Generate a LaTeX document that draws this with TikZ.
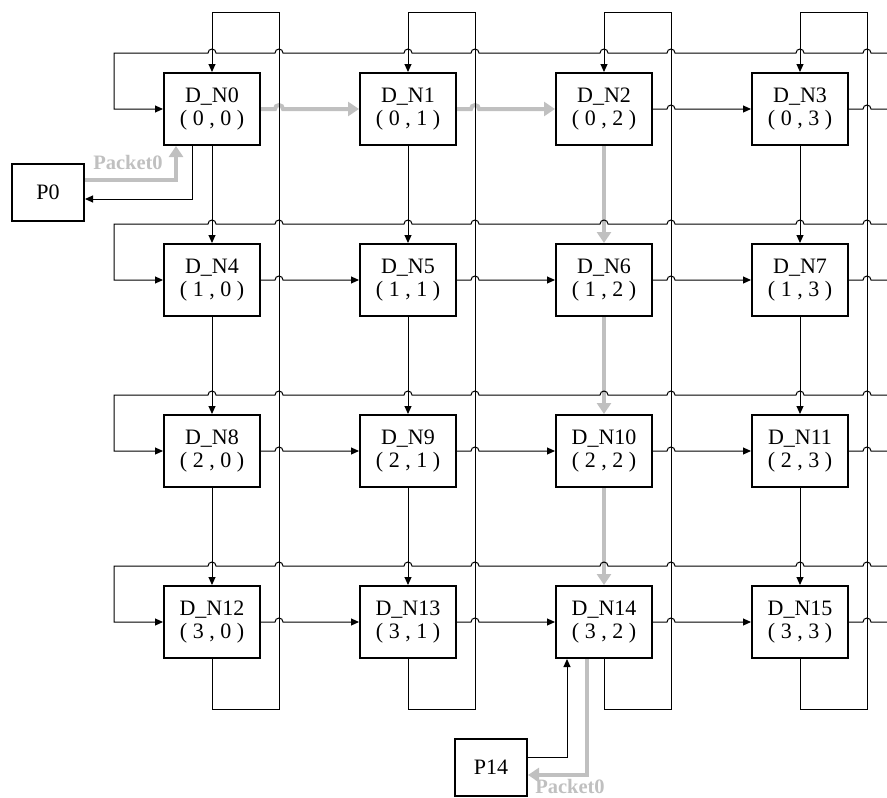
\documentclass[tikz,border=0pt]{standalone}
\usepackage{fontspec}
\setmainfont{Liberation Serif}
\usetikzlibrary{arrows.meta,calc}
\definecolor{pg}{RGB}{192,192,192}
\newcommand\hopR[2]{-- ({#1-4},#2) arc[start angle=180,end angle=0,radius=4pt]}
\newcommand\hopL[2]{-- ({#1+4},#2) arc[start angle=0,end angle=180,radius=4pt]}
\tikzset{
 dnode/.style={draw, line width=2pt, minimum width=96pt, minimum height=72pt, inner sep=0pt, align=center, font=\fontsize{22}{23}\selectfont, fill=white},
 pnode/.style={draw, line width=2pt, minimum width=72pt, minimum height=57pt, inner sep=0pt, font=\fontsize{22}{23}\selectfont, fill=white},
 wire/.style={line width=1pt, black},
 warr/.style={wire, -{Triangle[length=8pt,width=7pt]}},
 pwire/.style={line width=4pt, pg},
 parr/.style={pwire, -{Triangle[length=11pt,width=14pt]}},
 pktlabel/.style={text=pg, font=\bfseries\fontsize{20.5}{22}\selectfont, inner sep=0pt, anchor=base}
}
\begin{document}
\begin{tikzpicture}[x=1pt,y=-1pt]
\useasboundingbox (0,0) rectangle (887,798);
% nodes
\foreach \r in {0,...,3}{
 \foreach \c in {0,...,3}{
  \pgfmathtruncatemacro\i{4*\r+\c}
  \node[dnode] (n\i) at ({212+196*\c},{109+171*\r}) {D\_N\i\\( \r{} , \c{} )};
 }
}
\node[pnode] (p0) at (48,192) {P0};
\node[pnode] (p14) at (491,767) {P14};
% gray packet route
\draw[parr] (n0.east) \hopR{279}{109} -- (n1.west);
\draw[parr] (n1.east) \hopR{475}{109} -- (n2.west);
\draw[parr] (n2.south) -- (n6.north);
\draw[parr] (n6.south) -- (n10.north);
\draw[parr] (n10.south) -- (n14.north);
\draw[parr] (p0.east |- 0,180) -| (176,0 |- n0.south);
\draw[parr] (587,0 |- n14.south) |- (p14.east |- 0,775);
\node[pktlabel] (k0) at (128,169) {Packet0};
\node[pktlabel] (k1) at (570,793) {Packet0};
% processor links
\draw[warr] (192,0 |- n0.south) |- (p0.east |- 0,199);
\draw[warr] (p14.east |- 0,757) -| (567,0 |- n14.south);
% vertical links
\foreach \c in {0,1,3}{
 \foreach \r in {0,1,2}{
  \pgfmathtruncatemacro\i{4*\r+\c}
  \pgfmathtruncatemacro\k{4*\r+\c+4}
  \draw[warr] (n\i.south) -- (n\k.north);
 }
}
% vertical wrap links
\foreach \c in {0,...,3}{
 \pgfmathtruncatemacro\i{12+\c}
 \pgfmathsetmacro\cx{212+196*\c}
 \pgfmathsetmacro\wx{279+196*\c}
 \draw[warr] (n\i.south) -- (\cx,709) -- (\wx,709) -- (\wx,12) -- (\cx,12) -- (n\c.north);
}
% horizontal links
\foreach \r in {0,...,3}{
 \pgfmathsetmacro\cy{109+171*\r}
 \foreach \c in {0,1,2}{
  \pgfmathtruncatemacro\i{4*\r+\c}
  \pgfmathtruncatemacro\k{4*\r+\c+1}
  \pgfmathsetmacro\wx{279+196*\c}
  \ifnum\r=0 \ifnum\c<2 \else
   \draw[warr] (n\i.east) \hopR{\wx}{\cy} -- (n\k.west);
  \fi\else
   \draw[warr] (n\i.east) \hopR{\wx}{\cy} -- (n\k.west);
  \fi
 }
 \pgfmathtruncatemacro\i{4*\r+3}
 \draw[wire] (n\i.east) \hopR{867}{\cy} -- (887,\cy);
}
% horizontal wrap links
\foreach \r in {0,...,3}{
 \pgfmathsetmacro\wy{53+171*\r}
 \pgfmathtruncatemacro\j{4*\r}
 \draw[warr] (887,\wy) \hopL{867}{\wy} \hopL{800}{\wy} \hopL{671}{\wy} \hopL{604}{\wy} \hopL{475}{\wy} \hopL{408}{\wy} \hopL{279}{\wy} \hopL{212}{\wy} -- (114,\wy) |- (n\j.west);
}
\end{tikzpicture}
\end{document}
